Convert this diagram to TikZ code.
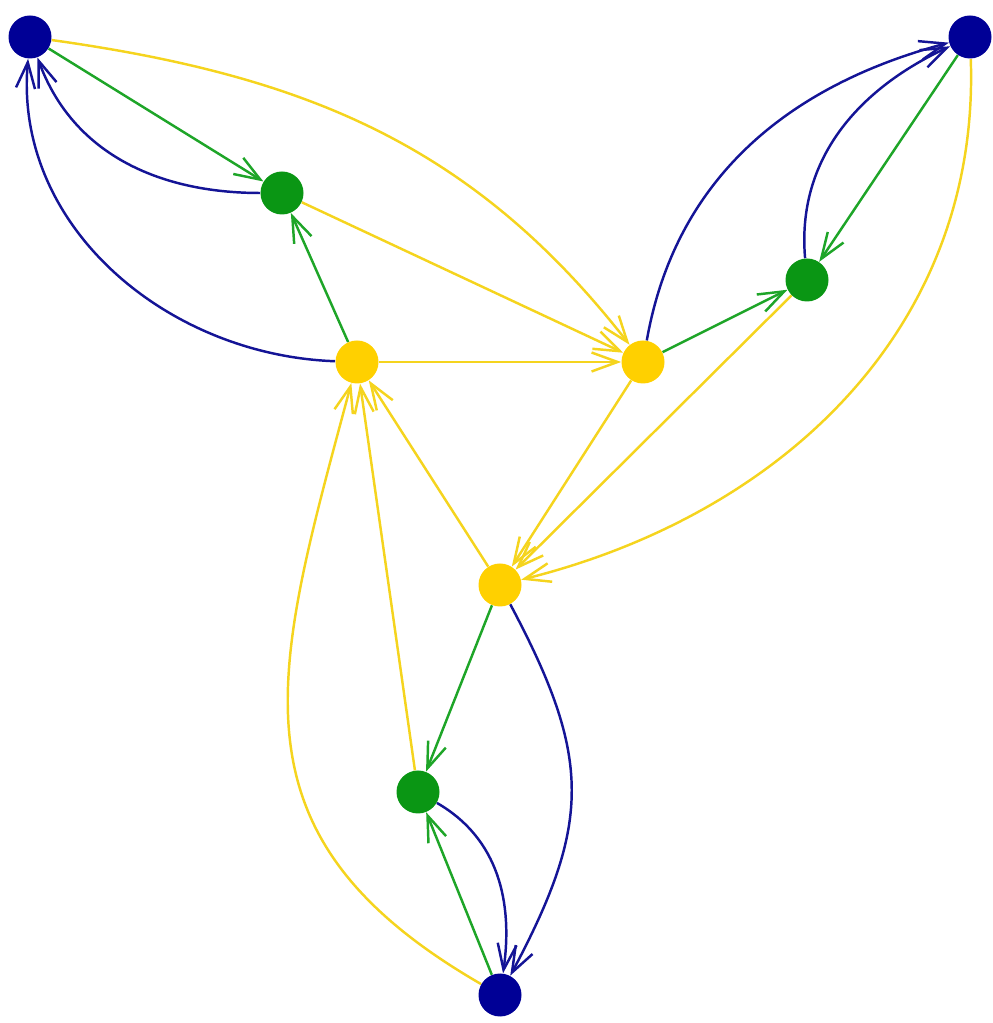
\documentclass[tikz,border=0pt]{standalone}
\usetikzlibrary{arrows.meta,backgrounds}
\definecolor{nblue}{RGB}{0,0,150}
\definecolor{ngreen}{RGB}{10,150,20}
\definecolor{nyellow}{RGB}{255,208,0}
\definecolor{eyellow}{RGB}{245,212,30}
\definecolor{eblue}{RGB}{20,20,150}
\definecolor{egreen}{RGB}{30,165,40}
\tikzset{
  vtx/.style={circle,inner sep=0pt,minimum size=0.86cm},
  bv/.style={vtx,fill=nblue},
  gv/.style={vtx,fill=ngreen},
  yv/.style={vtx,fill=nyellow},
  edge/.style={line width=1.4pt,-{Straight Barb[length=0.52cm,width=0.38cm,line width=1.4pt]}},
  be/.style={edge,eblue},
  ge/.style={edge,egreen},
  ye/.style={edge,eyellow},
}
\begin{document}
\begin{tikzpicture}
\useasboundingbox (0,0) rectangle (19.86,20.46);
\node[bv] (B1) at (0.6,19.72) {};
\node[bv] (B2) at (19.4,19.72) {};
\node[bv] (B3) at (10.0,0.56) {};
\node[gv] (G1) at (5.64,16.6) {};
\node[gv] (G2) at (16.14,14.86) {};
\node[gv] (G3) at (8.36,4.62) {};
\node[yv] (Y1) at (7.14,13.22) {};
\node[yv] (Y2) at (12.86,13.22) {};
\node[yv] (Y3) at (10.0,8.76) {};
\begin{scope}[on background layer]
% top-left
\draw[ge] (B1) -- (G1);
\draw[be] (G1) to[out=180,in=-70] (B1);
\draw[be] (Y1) to[out=178,in=-95] (B1);
\draw[ye] (B1) to[out=-8,in=128] (Y2);
\draw[ge] (Y1) -- (G1);
\draw[ye] (G1) -- (Y2);
% top-right
\draw[ge] (B2) -- (G2);
\draw[be] (G2) to[out=95,in=205] (B2);
\draw[be] (Y2) to[out=80,in=195] (B2);
\draw[ye] (B2) to[out=-88,in=14] (Y3);
\draw[ge] (Y2) -- (G2);
\draw[ye] (G2) -- (Y3);
% bottom
\draw[ge] (B3) -- (G3);
\draw[be] (G3) to[out=-30,in=82] (B3);
\draw[be] (Y3) to[out=-62,in=62,looseness=1.2] (B3);
\draw[ye] (B3) to[out=150,in=-105,looseness=1.25] (Y1);
\draw[ge] (Y3) -- (G3);
\draw[ye] (G3) -- (Y1);
% yellow triangle
\draw[ye] (Y1) -- (Y2);
\draw[ye] (Y2) -- (Y3);
\draw[ye] (Y3) -- (Y1);
\end{scope}
\end{tikzpicture}
\end{document}
